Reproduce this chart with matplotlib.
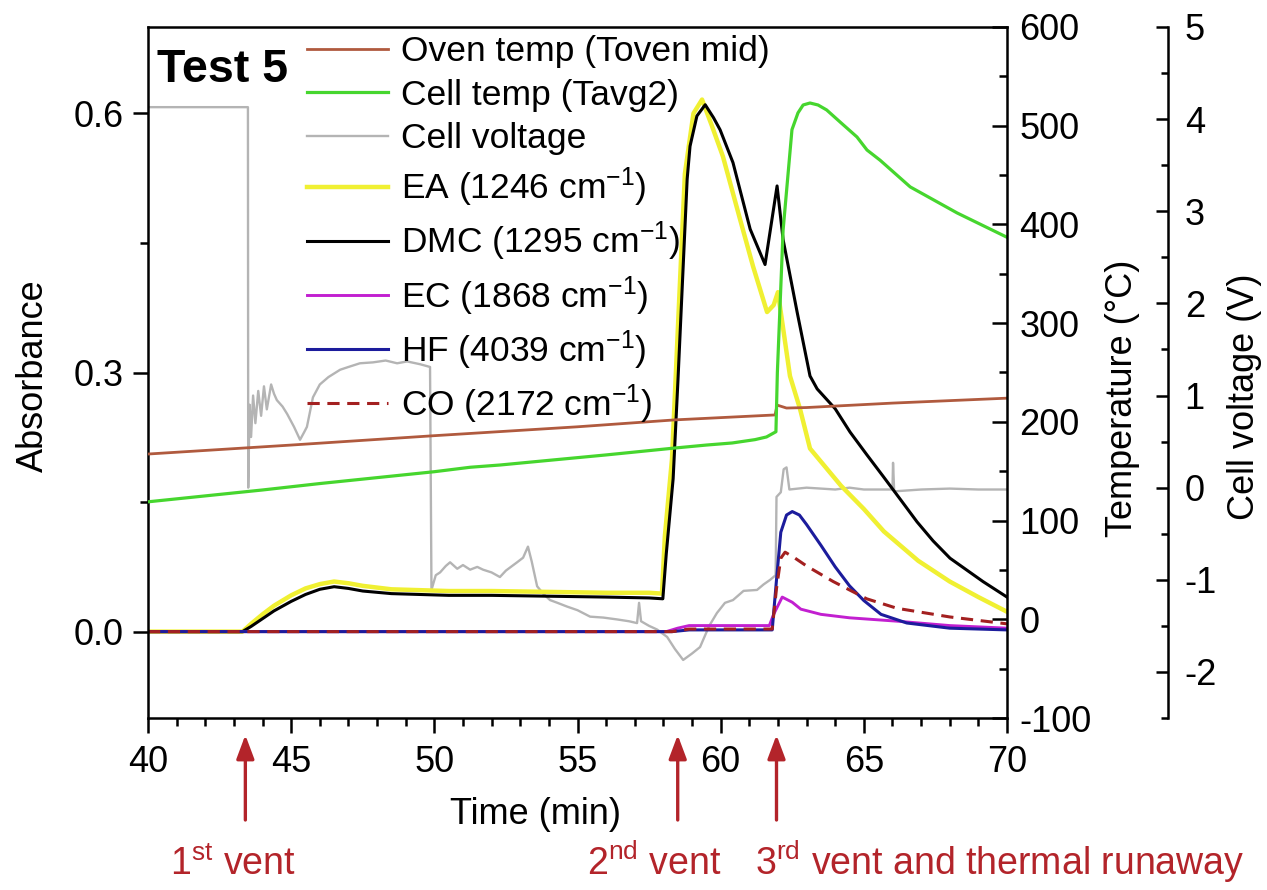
"""Test 5: FTIR absorbance of vent gases with oven/cell temperature and cell voltage."""

import matplotlib

matplotlib.use("Agg")
import matplotlib.pyplot as plt
from matplotlib.ticker import MultipleLocator, FixedLocator

plt.rcParams["font.family"] = ["Liberation Sans", "DejaVu Sans"]
plt.rcParams["mathtext.fontset"] = "custom"
plt.rcParams["mathtext.rm"] = "Liberation Sans"
plt.rcParams["mathtext.default"] = "regular"
plt.rcParams["axes.unicode_minus"] = False

# ---- absorbance traces (left axis) ----
ea_t = [40, 43.3, 43.6, 44.0, 44.4, 45.0, 45.5, 46.0, 46.5, 47.0, 47.5, 48.5, 50.5, 52, 54, 56,
        57.5, 57.95, 58.05, 58.3, 58.45, 58.75, 59.05, 59.35, 59.7, 60.08, 60.68, 61.13, 61.62,
        61.85, 62.0, 62.42, 62.77, 63.12, 64.2, 65.0, 65.7, 66.9, 68.0, 69.0, 70]
ea_a = [0, 0, 0.009, 0.020, 0.030, 0.042, 0.050, 0.055, 0.058, 0.056, 0.053, 0.049, 0.047, 0.047,
        0.046, 0.045, 0.045, 0.044, 0.11, 0.20, 0.31, 0.53, 0.60, 0.616, 0.585, 0.550, 0.477, 0.423,
        0.370, 0.378, 0.393, 0.296, 0.258, 0.212, 0.169, 0.142, 0.116, 0.082, 0.058, 0.040, 0.023]

dmc_t = [40, 43.3, 43.6, 44.0, 44.4, 45.0, 45.5, 46.0, 46.5, 47.0, 47.5, 48.5, 50.5, 52, 54, 56,
         57.5, 57.98, 58.1, 58.34, 58.51, 58.83, 58.93, 59.17, 59.46, 59.75, 59.98, 60.43, 61.03,
         61.55, 61.97, 62.18, 62.67, 63.12, 63.37, 64.0, 64.52, 65.1, 65.67, 66.3, 66.86, 67.42,
         68.01, 69.16, 70]
dmc_a = [0, 0, 0.006, 0.015, 0.024, 0.035, 0.043, 0.049, 0.052, 0.050, 0.047, 0.044, 0.042, 0.042,
         0.041, 0.040, 0.039, 0.038, 0.09, 0.177, 0.292, 0.524, 0.562, 0.597, 0.610, 0.595, 0.581,
         0.543, 0.466, 0.425, 0.516, 0.454, 0.370, 0.296, 0.281, 0.258, 0.231, 0.205, 0.180, 0.152,
         0.127, 0.105, 0.085, 0.058, 0.040]

ec_t = [40, 58.1, 58.5, 58.9, 61.7, 61.85, 62.15, 62.5, 62.8, 63.5, 64.5, 66.2, 68, 70]
ec_a = [0, 0, 0.004, 0.007, 0.007, 0.020, 0.040, 0.034, 0.026, 0.020, 0.016, 0.012, 0.007, 0.004]

hf_t = [40, 58.3, 58.9, 61.8, 61.95, 62.1, 62.3, 62.5, 62.75, 63.0, 63.5, 64.0, 64.5, 65.0, 65.6,
        66.5, 68, 70]
hf_a = [0, 0, 0.002, 0.002, 0.06, 0.115, 0.135, 0.139, 0.135, 0.124, 0.100, 0.075, 0.053, 0.036,
        0.020, 0.010, 0.004, 0.002]

co_t = [40, 58.3, 58.9, 61.8, 61.95, 62.1, 62.25, 62.6, 63.0, 63.93, 65.1, 66.16, 68, 70]
co_a = [0, 0, 0.003, 0.003, 0.05, 0.085, 0.092, 0.085, 0.076, 0.058, 0.038, 0.027, 0.017, 0.009]

# ---- temperatures (degC) ----
oven_t = [40, 45, 50, 55, 58.4, 61.9, 61.97, 62.3, 63, 66, 70]
oven_T = [167.4, 176.5, 186, 195, 202, 207, 217, 214, 214.5, 219, 224]

cell_t = [40, 42, 44, 46, 48, 50, 51.25, 52.3, 54, 56, 58.4, 59.5, 60.4, 61.2, 61.6, 61.93, 61.98,
          62.18, 62.49, 62.7, 62.88, 63.12, 63.4, 63.7, 64.2, 64.76, 65.11, 65.57, 66.62, 68.26, 70]
cell_T = [119, 125, 131, 137.5, 143.5, 149.5, 154, 156.3, 161, 166.5, 173.5, 176.5, 178.6, 182,
          184.7, 190, 250, 394, 496, 513, 521, 523, 521, 516, 503, 488.6, 475.4, 465, 438, 411.6, 387]

# ---- cell voltage (V) ----
volt_t = [40, 43.49, 43.50, 43.55, 43.60, 43.67, 43.75, 43.85, 43.95, 44.05, 44.15, 44.30, 44.40,
          44.50, 44.70, 44.86, 45.10, 45.31, 45.45, 45.55, 45.76, 46.00, 46.30, 46.71, 47.00, 47.40,
          47.86, 48.30, 48.70, 49.05, 49.50, 49.85, 49.90, 50.05, 50.20, 50.40, 50.55, 50.80, 51.00,
          51.25, 51.50, 51.70, 52.00, 52.29, 52.50, 52.89, 53.10, 53.27, 53.40, 53.59, 53.80, 54.04,
          54.30, 54.63, 55.00, 55.44, 55.90, 56.38, 56.80, 57.08, 57.15, 57.22, 57.50, 57.78, 58.13,
          58.40, 58.69, 59.00, 59.28, 59.60, 59.87, 60.15, 60.43, 60.80, 61.27, 61.50, 61.73, 61.92,
          61.95, 62.10, 62.20, 62.30, 62.40, 63.00, 64.00, 64.50, 65.00, 66.00, 66.02, 66.06, 67.00,
          68.00, 69.00, 70.00]
volt_v = [4.13, 4.13, 0.00, 0.90, 0.55, 1.00, 0.70, 1.05, 0.78, 1.10, 0.85, 1.12, 1.02, 0.95, 0.88,
          0.80, 0.66, 0.52, 0.60, 0.66, 0.98, 1.12, 1.20, 1.28, 1.31, 1.35, 1.36, 1.38, 1.35, 1.37,
          1.34, 1.31, -1.11, -0.95, -0.92, -0.85, -0.81, -0.88, -0.84, -0.89, -0.86, -0.89, -0.92,
          -0.97, -0.90, -0.81, -0.76, -0.64, -0.80, -1.07, -1.15, -1.22, -1.25, -1.29, -1.33, -1.40,
          -1.41, -1.43, -1.45, -1.47, -1.25, -1.45, -1.50, -1.54, -1.62, -1.75, -1.87, -1.80, -1.73,
          -1.50, -1.36, -1.25, -1.22, -1.12, -1.11, -1.05, -1.00, -0.95, -0.10, -0.05, 0.20, 0.22,
          -0.02, 0.00, -0.02, 0.00, -0.02, -0.02, 0.27, -0.04, -0.02, -0.01, -0.02, -0.02]

# vent events (min)
vent_t = [43.4, 58.5, 61.95]

FS = 26
RED = "#b3242a"

fig = plt.figure(figsize=(12.67, 8.90), dpi=100)
fig.patch.set_facecolor("white")
W, H = 1267, 890
L, R, T, B = 148, 1007, 27, 718
ax = fig.add_axes([L / W, (H - B) / H, (R - L) / W, (B - T) / H])
axv = ax.twinx()
axt = ax.twinx()
axv.set_zorder(0)
ax.set_zorder(1)
axt.set_zorder(2)
for a in (ax, axv, axt):
    a.patch.set_visible(False)

# absorbance
ax.plot(ea_t, ea_a, color="#f0f032", lw=3.2, label="EA (1246 cm$^{-1}$)")
ax.plot(dmc_t, dmc_a, color="black", lw=2.2, label="DMC (1295 cm$^{-1}$)")
ax.plot(ec_t, ec_a, color="#c21fd0", lw=2.1, label="EC (1868 cm$^{-1}$)")
ax.plot(hf_t, hf_a, color="#1c1c9c", lw=2.2, label="HF (4039 cm$^{-1}$)")
ax.plot(co_t, co_a, color="#a32020", lw=2.2, ls=(0, (4, 2.5)), label="CO (2172 cm$^{-1}$)")

# voltage
axv.plot(volt_t, volt_v, color="#b4b4b4", lw=1.7, label="Cell voltage")

# temperatures
axt.plot(oven_t, oven_T, color="#b05a3e", lw=2.0, label="Oven temp (Toven mid)")
axt.plot(cell_t, cell_T, color="#46d62e", lw=2.3, label="Cell temp (Tavg2)")

# axis ranges and ticks
ax.set_xlim(40, 70)
ax.set_ylim(-0.1, 0.7)
ax.xaxis.set_major_locator(MultipleLocator(5))
ax.xaxis.set_minor_locator(MultipleLocator(1))
ax.yaxis.set_major_locator(FixedLocator([0.0, 0.3, 0.6]))
ax.yaxis.set_minor_locator(FixedLocator([0.15, 0.45]))
ax.set_yticklabels(["0.0", "0.3", "0.6"])
ax.tick_params(which="both", direction="out", width=1.8, labelsize=FS)
ax.tick_params(which="major", length=10.8)
ax.tick_params(which="minor", length=5.8)
ax.tick_params(axis="x", pad=9)
ax.tick_params(axis="y", pad=7)
ax.spines["right"].set_visible(False)
for s in ("left", "bottom", "top"):
    ax.spines[s].set_linewidth(1.8)

axt.set_ylim(-100, 600)
axt.yaxis.set_major_locator(MultipleLocator(100))
axt.yaxis.set_minor_locator(MultipleLocator(50))
axt.tick_params(which="both", direction="in", width=1.8, labelsize=FS, pad=9)
axt.tick_params(which="major", length=10.8)
axt.tick_params(which="minor", length=5.8)
for s in ("left", "bottom", "top"):
    axt.spines[s].set_visible(False)
axt.spines["right"].set_linewidth(1.8)

axv.set_ylim(-2.5, 5)
axv.spines["right"].set_position(("axes", (1168 - L) / (R - L)))
axv.yaxis.set_major_locator(FixedLocator([-2, -1, 0, 1, 2, 3, 4, 5]))
axv.yaxis.set_minor_locator(FixedLocator([-2.5, -1.5, -0.5, 0.5, 1.5, 2.5, 3.5, 4.5]))
axv.tick_params(which="both", direction="in", width=1.8, labelsize=FS, pad=12)
axv.tick_params(which="major", length=8.6)
axv.tick_params(which="minor", length=5.0)
for s in ("left", "bottom", "top"):
    axv.spines[s].set_visible(False)
axv.spines["right"].set_linewidth(1.8)

# axis titles
fig.text(33 / W, 1 - 376 / H, "Absorbance", rotation=90, ha="center", va="center", fontsize=FS)
fig.text(1122 / W, 1 - 398 / H, "Temperature (°C)", rotation=90, ha="center", va="center",
         fontsize=FS)
fig.text(1245 / W, 1 - 397 / H, "Cell voltage (V)", rotation=90, ha="center", va="center",
         fontsize=FS)
fig.text(535 / W, 1 - 815 / H, "Time (min)", ha="center", va="center", fontsize=FS)

fig.text(157 / W, 1 - 82 / H, "Test 5", fontsize=33.5, weight="bold", va="baseline")

# legend collects lines from all three axes
lines = {l.get_label(): l for a in (ax, axv, axt) for l in a.get_lines()}
order = ["Oven temp (Toven mid)", "Cell temp (Tavg2)", "Cell voltage", "EA (1246 cm$^{-1}$)",
         "DMC (1295 cm$^{-1}$)", "EC (1868 cm$^{-1}$)", "HF (4039 cm$^{-1}$)",
         "CO (2172 cm$^{-1}$)"]
axt.legend([lines[k] for k in order], order, loc="upper left",
           bbox_to_anchor=(307 / W, 1 - 35 / H), bbox_transform=fig.transFigure,
           frameon=False, fontsize=25.5, handlelength=2.3, handletextpad=0.35,
           labelspacing=0.3, borderpad=0, borderaxespad=0)

# vent arrows below the time axis
xt = ax.get_xaxis_transform()
y_tip = (B - 735) / (B - T)
y_tail = (B - 820) / (B - T)
for t in vent_t:
    ax.annotate("", xy=(t, y_tip), xycoords=xt, xytext=(t, y_tail), textcoords=xt,
                annotation_clip=False,
                arrowprops=dict(arrowstyle="-|>,head_length=0.4,head_width=0.15",
                                mutation_scale=36, color=RED, lw=2.4, shrinkA=0, shrinkB=0))

y_txt = (B - 875) / (B - T)
ax.text(42.97, y_txt, "1$^{st}$ vent", transform=xt, ha="center", va="baseline",
        fontsize=27, color=RED)
ax.text(57.67, y_txt, "2$^{nd}$ vent", transform=xt, ha="center", va="baseline",
        fontsize=27, color=RED)
ax.text(61.2, y_txt, "3$^{rd}$ vent and thermal runaway", transform=xt, ha="left",
        va="baseline", fontsize=27, color=RED)

fig.savefig("out.png", dpi=100, facecolor="white")
